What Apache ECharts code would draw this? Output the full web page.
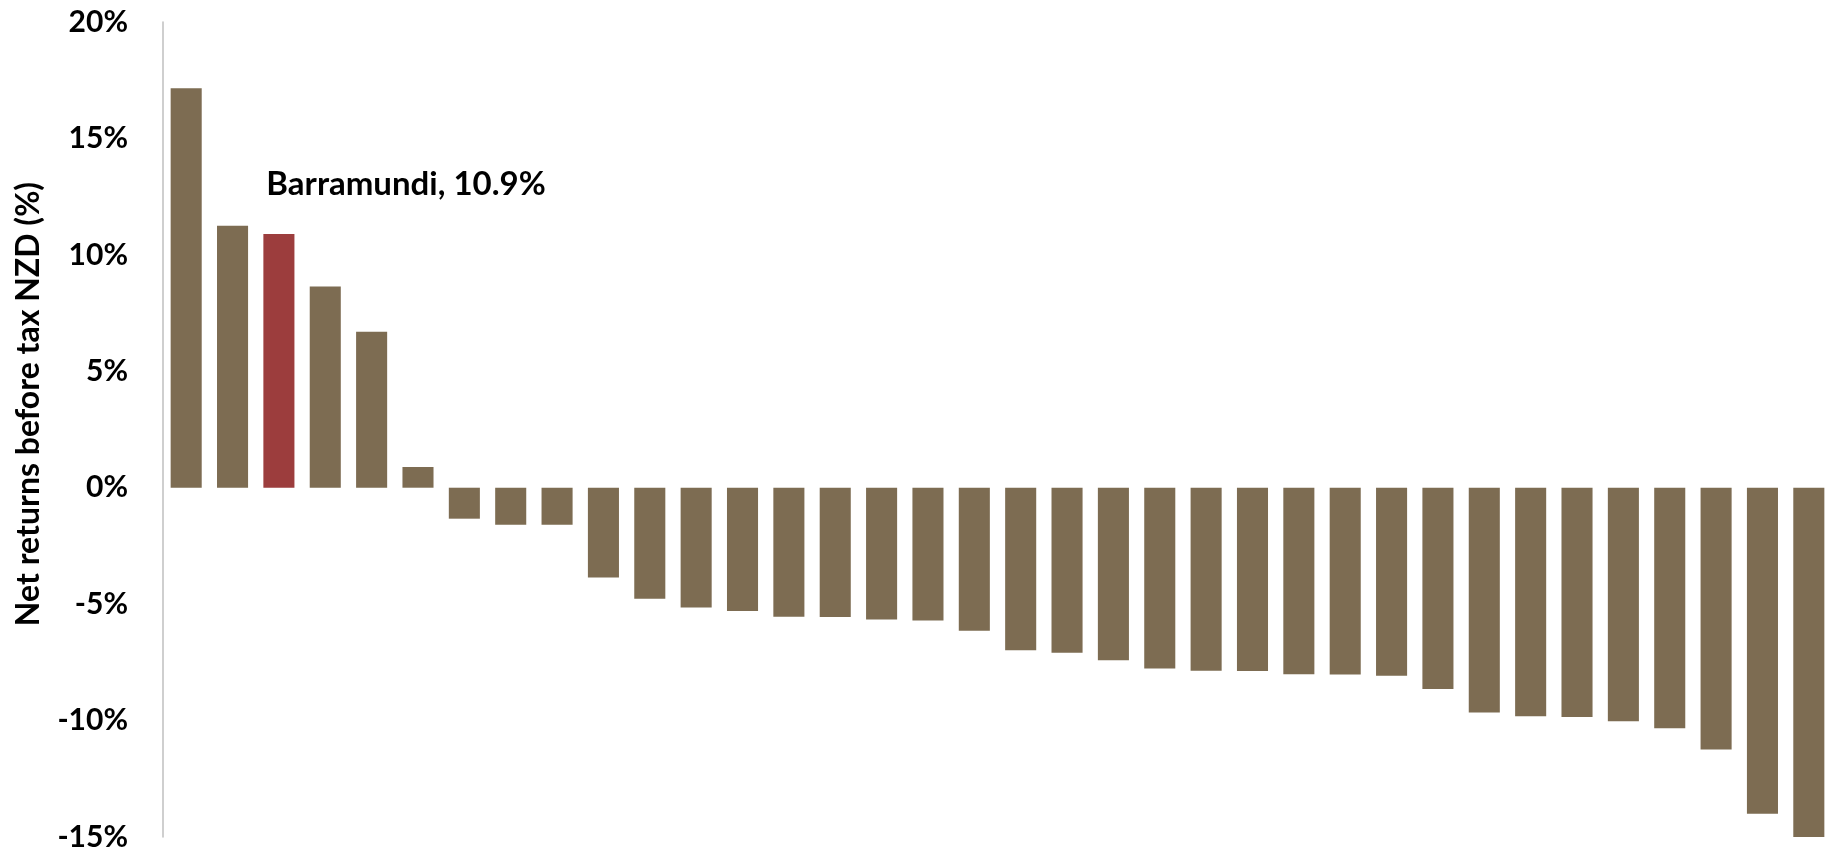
<!DOCTYPE html>
<html>
<head>
<meta charset="utf-8">
<script src="https://cdn.jsdelivr.net/npm/echarts@6/dist/echarts.min.js"></script>
<style>
html,body{margin:0;padding:0;background:#fff;}
#chart{width:1832px;height:852px;}
</style>
</head>
<body>
<div id="chart"></div>
<script>
// Categories (funds, sorted by return); only Barramundi is named in the reference
const categories = [
  'Fund 1','Fund 2','Barramundi','Fund 4','Fund 5','Fund 6','Fund 7','Fund 8','Fund 9',
  'Fund 10','Fund 11','Fund 12','Fund 13','Fund 14','Fund 15','Fund 16','Fund 17','Fund 18',
  'Fund 19','Fund 20','Fund 21','Fund 22','Fund 23','Fund 24','Fund 25','Fund 26','Fund 27',
  'Fund 28','Fund 29','Fund 30','Fund 31','Fund 32','Fund 33','Fund 34','Fund 35','Fund 36'
];
// Net returns before tax NZD (%)
const returns = [
  17.15, 11.25, 10.9, 8.64, 6.7, 0.89, -1.33, -1.59, -1.59,
  -3.86, -4.77, -5.14, -5.29, -5.54, -5.55, -5.66, -5.70, -6.14,
  -6.98, -7.09, -7.41, -7.76, -7.86, -7.87, -8.01, -8.02, -8.08,
  -8.64, -9.65, -9.81, -9.85, -10.03, -10.33, -11.24, -14.0, -15.0
];
const highlightName = 'Barramundi';
const yTicks = { min: -15, max: 20, interval: 5 };
const yTitle = 'Net returns before tax NZD (%)';

const BROWN = '#7D6C52';
const RED = '#9C3D3D';
const FONT = 'Lato, "Noto Sans", sans-serif';

const seriesData = returns.map((v, i) => {
  const isHi = categories[i] === highlightName;
  const item = { value: v, itemStyle: { color: isHi ? RED : BROWN } };
  if (isHi) {
    item.label = {
      show: true,
      position: [3, -50],
      align: 'left',
      verticalAlign: 'middle',
      formatter: categories[i] + ', ' + v.toFixed(1) + '%',
      color: '#000',
      fontFamily: FONT,
      fontWeight: 'bold',
      fontSize: 33
    };
  }
  return item;
});

const chart = echarts.init(document.getElementById('chart'), null, { renderer: 'canvas' });
chart.setOption({
  animation: false,
  backgroundColor: '#fff',
  grid: { left: 163, top: 22, width: 1692, height: 815.5, containLabel: false },
  graphic: [{
    type: 'text',
    x: 29,
    y: 404,
    rotation: Math.PI / 2,
    style: {
      text: yTitle,
      fill: '#000',
      font: 'bold 32px Lato, "Noto Sans", sans-serif',
      align: 'center',
      verticalAlign: 'middle'
    }
  }],
  xAxis: {
    type: 'category',
    data: categories,
    axisLine: { show: false },
    axisTick: { show: false },
    axisLabel: { show: false },
    splitLine: { show: false }
  },
  yAxis: {
    type: 'value',
    min: yTicks.min,
    max: yTicks.max,
    interval: yTicks.interval,
    axisLine: { show: true, lineStyle: { color: '#BFBFBF', width: 1.5 } },
    axisTick: { show: false },
    splitLine: { show: false },
    axisLabel: {
      margin: 35,
      color: '#000',
      fontFamily: FONT,
      fontWeight: 'bold',
      fontSize: 30,
      formatter: '{value}%'
    }
  },
  series: [{
    type: 'bar',
    data: seriesData,
    barCategoryGap: '33%',
    label: { show: false }
  }]
});
</script>
</body>
</html>
